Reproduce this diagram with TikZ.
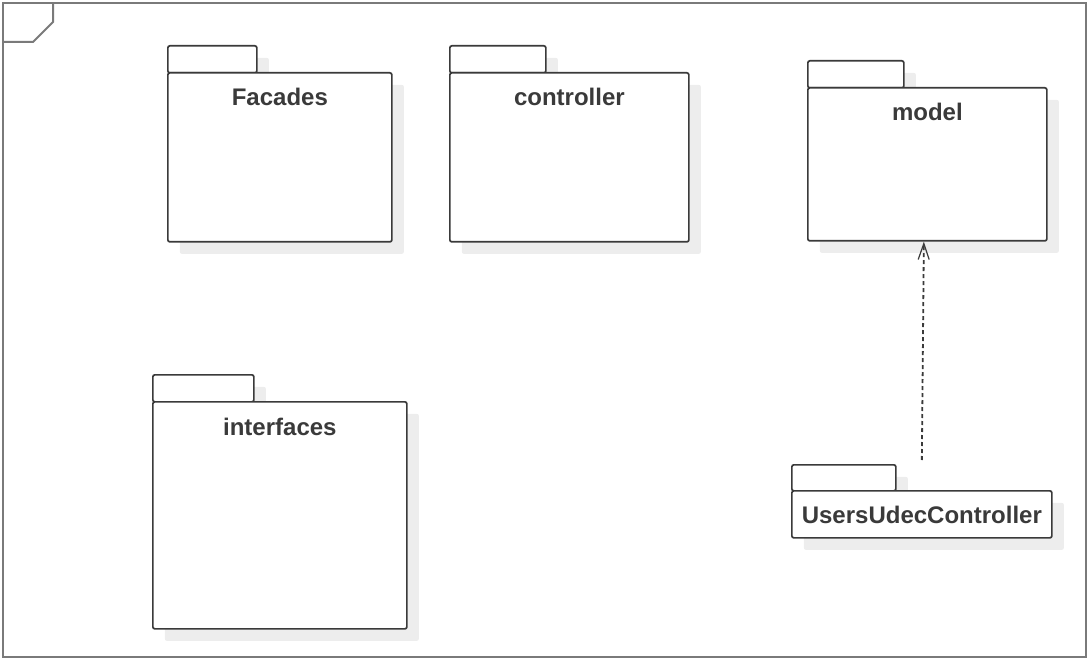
\documentclass[tikz,border=0pt]{standalone}
\usepackage{fontspec}
\setmainfont{Liberation Sans}
\usetikzlibrary{positioning,arrows.meta,shadows}
\definecolor{pkgline}{HTML}{3A3A3A}
\definecolor{pkgshadow}{HTML}{EDEDED}
\definecolor{frameline}{HTML}{7A7A7A}

\begin{document}
\begin{tikzpicture}[x=1pt,y=-1pt,
    pkg/.style={draw=pkgline,line width=1.7pt,fill=white,rounded corners=2pt,
      drop shadow={shadow xshift=12pt,shadow yshift=-12pt,fill=pkgshadow,opacity=1},
      inner sep=0pt,anchor=north west},
    pkgname/.style={font=\fontsize{24}{28}\selectfont\bfseries,text=pkgline,inner sep=0pt,anchor=base}]
    \useasboundingbox (0,0) rectangle (1089,660);
    % frame with its notch
    \draw[frameline,line width=2pt] (3,3) rectangle (1086,657);
    \draw[frameline,line width=2pt] (3,42) -- (33,42) -- (53,22) -- (53,3);

    % packages: tab first, then body on top of it
    \node[pkg,minimum width=89pt,minimum height=27pt]   (tab_facades) at (167,45) {};
    \node[pkg,minimum width=224pt,minimum height=169pt] (pkg_facades) at (167,72) {};
    \node[pkgname] (lbl_facades) at ([yshift=-34pt]pkg_facades.north) {Facades};

    \node[pkg,minimum width=96pt,minimum height=27pt]   (tab_controller) at (449,45) {};
    \node[pkg,minimum width=239pt,minimum height=169pt] (pkg_controller) at (449,72) {};
    \node[pkgname] (lbl_controller) at ([yshift=-34pt]pkg_controller.north) {controller};

    \node[pkg,minimum width=96pt,minimum height=27pt]   (tab_model) at (807,60) {};
    \node[pkg,minimum width=239pt,minimum height=153pt] (pkg_model) at (807,87) {};
    \node[pkgname] (lbl_model) at ([yshift=-34pt]pkg_model.north) {model};

    \node[pkg,minimum width=101pt,minimum height=27pt]  (tab_interfaces) at (152,374) {};
    \node[pkg,minimum width=254pt,minimum height=227pt] (pkg_interfaces) at (152,401) {};
    \node[pkgname] (lbl_interfaces) at ([yshift=-34pt]pkg_interfaces.north) {interfaces};

    \node[pkg,minimum width=104pt,minimum height=26pt]  (tab_users) at (791,464) {};
    \node[pkg,minimum width=260pt,minimum height=47pt]  (pkg_users) at (791,490) {};
    \node[pkgname] (lbl_users) at ([yshift=-33pt]pkg_users.north) {UsersUdecController};

    % dependency
    \coordinate (dep_start) at ([yshift=30pt]pkg_users.north);
    \draw[pkgline,line width=1.8pt,dash pattern=on 4pt off 3pt,
      -{Straight Barb[length=16pt,width=11pt,line width=1.2pt]}]
    (dep_start) -- ([xshift=-3.5pt]pkg_model.south);
  \end{tikzpicture}
\end{document}
